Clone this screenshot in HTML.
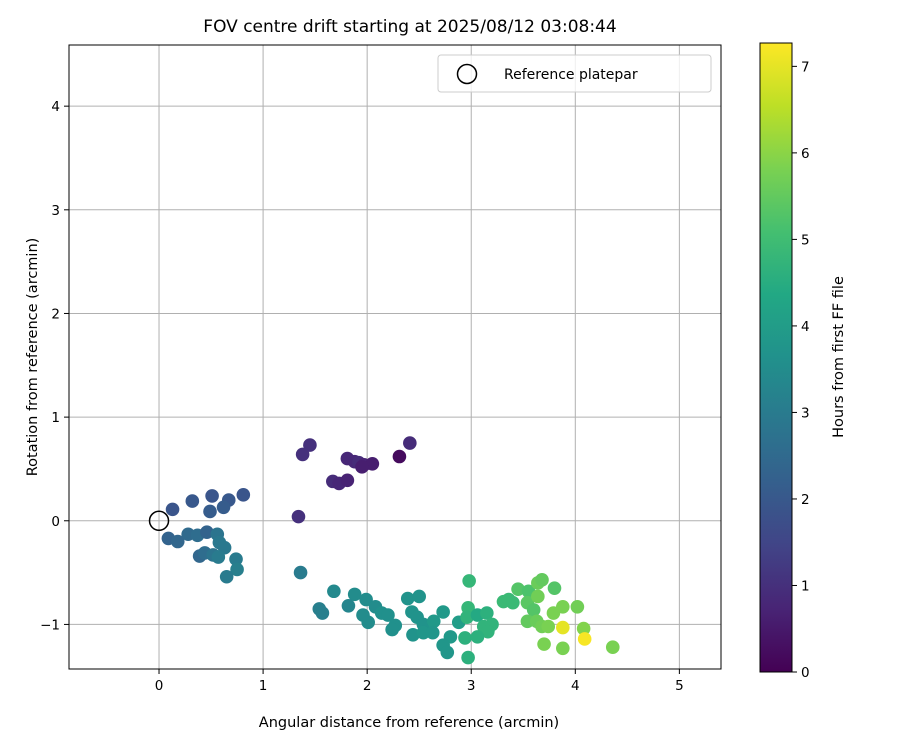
<!DOCTYPE html>
<html><head><meta charset="utf-8"><style>
body{margin:0;background:#fff;}
svg text{font-family:"DejaVu Sans","Liberation Sans",sans-serif;fill:#000;}
</style></head><body>
<svg id="chart" width="900" height="750" xmlns="http://www.w3.org/2000/svg">
<defs><linearGradient id="vir" x1="0" y1="1" x2="0" y2="0">
<stop offset="0" stop-color="#440154"/><stop offset="0.1" stop-color="#482475"/><stop offset="0.2" stop-color="#414487"/><stop offset="0.3" stop-color="#355f8d"/><stop offset="0.4" stop-color="#2a788e"/><stop offset="0.5" stop-color="#21918c"/><stop offset="0.6" stop-color="#22a884"/><stop offset="0.7" stop-color="#44bf70"/><stop offset="0.8" stop-color="#7ad151"/><stop offset="0.9" stop-color="#bddf26"/><stop offset="1" stop-color="#fde725"/>
</linearGradient></defs>
</svg>
<script>
const xs=[2.41,2.31,1.45,1.38,1.81,1.88,1.92,1.97,2.05,1.95,1.67,1.73,1.81,1.34,
0.13,0.32,0.51,0.67,0.81,0.49,0.62,
0.09,0.18,0.28,0.37,0.46,0.56,0.39,0.44,0.52,0.58,0.63,0.57,0.74,0.75,0.65,1.36,
1.54,1.57,1.68,1.88,1.82,1.99,2.08,1.96,2.01,2.14,2.20,2.27,2.24,2.39,2.50,2.43,2.48,2.54,2.44,2.54,2.64,2.63,2.73,2.80,2.73,2.77,2.88,
2.98,2.97,2.96,3.06,3.15,3.12,3.20,3.16,2.94,3.06,2.97,
3.31,3.36,3.40,3.45,3.55,3.54,3.64,3.68,3.64,3.80,3.60,3.54,3.63,3.68,3.74,3.79,3.88,4.02,3.70,3.88,4.08,4.36,3.88,4.09];
const ys=[0.75,0.62,0.73,0.64,0.60,0.57,0.56,0.54,0.55,0.52,0.38,0.36,0.39,0.04,
0.11,0.19,0.24,0.20,0.25,0.09,0.13,
-0.17,-0.20,-0.13,-0.14,-0.11,-0.13,-0.34,-0.31,-0.33,-0.21,-0.26,-0.35,-0.37,-0.47,-0.54,-0.50,
-0.85,-0.89,-0.68,-0.71,-0.82,-0.76,-0.83,-0.91,-0.98,-0.89,-0.91,-1.01,-1.05,-0.75,-0.73,-0.88,-0.93,-1.00,-1.10,-1.08,-0.97,-1.08,-0.88,-1.12,-1.20,-1.27,-0.98,
-0.58,-0.84,-0.93,-0.91,-0.89,-1.02,-1.00,-1.07,-1.13,-1.12,-1.32,
-0.78,-0.76,-0.79,-0.66,-0.68,-0.79,-0.60,-0.57,-0.73,-0.65,-0.86,-0.97,-0.97,-1.02,-1.02,-0.89,-0.83,-0.83,-1.19,-1.23,-1.04,-1.22,-1.03,-1.14];
const hours=[0.9,0.2,1.0,1.0,0.8,0.8,0.9,0.7,0.6,0.6,0.9,0.8,0.7,1.0,
1.9,2.0,1.9,2.0,1.9,2.1,2.1,
2.3,2.4,2.5,2.6,2.3,2.8,2.4,2.6,2.8,2.9,2.9,3.0,3.0,3.1,3.0,3.0,
3.1,3.1,3.4,3.5,3.3,3.5,3.5,3.5,3.5,3.6,3.6,3.6,3.6,3.7,3.7,3.7,3.7,3.7,3.7,3.8,3.9,3.8,3.9,3.9,3.8,3.8,4.0,
4.8,4.8,4.7,4.4,4.6,4.7,4.7,4.7,4.6,4.6,4.6,
4.9,4.9,4.9,5.3,5.2,5.4,5.6,5.5,5.7,5.3,5.3,5.5,5.6,5.7,5.8,5.8,5.8,5.7,5.8,5.8,5.9,5.8,7.0,7.2];
const xTicks=[0,1,2,3,4,5];
const yTicks=[-1,0,1,2,3,4];
const cTicks=[0,1,2,3,4,5,6,7];
const X0=69,X1=721,Y0=45,Y1=669,XMIN=-0.865,XMAX=5.40,YMIN=-1.43,YMAX=4.59,CMAX=7.27;
const sx=v=>X0+(v-XMIN)/(XMAX-XMIN)*(X1-X0);
const sy=v=>Y1-(v-YMIN)/(YMAX-YMIN)*(Y1-Y0);
const CB_T=43,CB_B=672;
const sc=v=>CB_B-v/CMAX*(CB_B-CB_T);
const stops=["#440154","#482475","#414487","#355f8d","#2a788e","#21918c","#22a884","#44bf70","#7ad151","#bddf26","#fde725"];
function hx(c){return [1,3,5].map(i=>parseInt(c.substr(i,2),16));}
function vir(h){let t=Math.max(0,Math.min(1,h/CMAX))*10;let i=Math.min(9,Math.floor(t));let f=t-i;let a=hx(stops[i]),b=hx(stops[i+1]);return 'rgb('+a.map((v,k)=>Math.round(v+(b[k]-v)*f)).join(',')+')';}
const svg=document.getElementById('chart');const NS='http://www.w3.org/2000/svg';
function mk(tag,at,txt){const e=document.createElementNS(NS,tag);for(const k in at)e.setAttribute(k,at[k]);if(txt!==undefined)e.textContent=txt;svg.appendChild(e);return e;}
let e;
e=mk('rect',{x:X0,y:Y0,width:X1-X0,height:Y1-Y0,fill:'#fff'});


xTicks.forEach(v=>{
e=mk('line',{x1:sx(v),x2:sx(v),y1:Y0,y2:Y1,stroke:'#b0b0b0','stroke-width':1});


e=mk('line',{x1:sx(v),x2:sx(v),y1:Y1,y2:Y1+5,stroke:'#000'});


e=mk('text',{x:sx(v),y:Y1+21,'text-anchor':'middle','font-size':13.5},String(v));


});
yTicks.forEach(v=>{
e=mk('line',{x1:X0,x2:X1,y1:sy(v),y2:sy(v),stroke:'#b0b0b0','stroke-width':1});


e=mk('line',{x1:X0-5,x2:X0,y1:sy(v),y2:sy(v),stroke:'#000'});


e=mk('text',{x:X0-9,y:sy(v)+5,'text-anchor':'end','font-size':13.5},v<0?'\u2212'+(-v):String(v));


});
xs.forEach((x,i)=>{
e=mk('circle',{cx:sx(x),cy:sy(ys[i]),r:6.8,fill:vir(hours[i])});


});
e=mk('circle',{cx:sx(0),cy:sy(0),r:9.5,fill:'none',stroke:'#000','stroke-width':1.5});


e=mk('rect',{x:X0,y:Y0,width:X1-X0,height:Y1-Y0,fill:'none',stroke:'#000','stroke-width':1});


e=mk('rect',{x:438,y:55,width:273,height:37,rx:3,fill:'#fff','fill-opacity':0.8,stroke:'#ccc'});


e=mk('circle',{cx:467,cy:74,r:9.5,fill:'none',stroke:'#000','stroke-width':1.5});


e=mk('text',{x:504,y:79,'font-size':14},'Reference platepar');


e=mk('text',{x:410,y:32,'text-anchor':'middle','font-size':17},'FOV centre drift starting at 2025/08/12 03:08:44');


e=mk('text',{x:409,y:727,'text-anchor':'middle','font-size':14.5},'Angular distance from reference (arcmin)');


e=mk('text',{x:0,y:0,'text-anchor':'middle','font-size':14.5,transform:'translate(37,357) rotate(-90)'},'Rotation from reference (arcmin)');


e=mk('rect',{x:760,y:CB_T,width:32,height:CB_B-CB_T,fill:'url(#vir)',stroke:'#000','stroke-width':1});


cTicks.forEach(v=>{
e=mk('line',{x1:792,x2:797,y1:sc(v),y2:sc(v),stroke:'#000'});


e=mk('text',{x:801,y:sc(v)+5,'font-size':13.5},String(v));


});
e=mk('text',{x:0,y:0,'text-anchor':'middle','font-size':14.5,transform:'translate(843,357) rotate(-90)'},'Hours from first FF file');


</script>
</body></html>
